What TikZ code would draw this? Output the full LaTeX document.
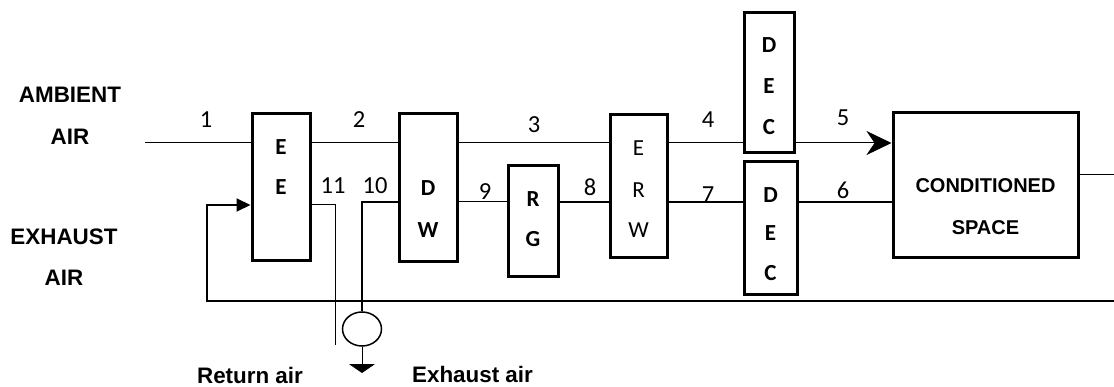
\documentclass[tikz,border=0pt]{standalone}
\usepackage{fontspec}
\setmainfont{Liberation Sans}
\newfontfamily\calfont{Carlito}
\usetikzlibrary{arrows.meta, shapes.geometric}

\begin{document}
\begin{tikzpicture}[x=1pt, y=-1pt,
    box/.style={draw, line width=3pt, inner sep=0pt},
    letter/.style={font=\calfont\bfseries\fontsize{23}{25}\selectfont, inner sep=0pt},
    thinletter/.style={font=\calfont\fontsize{23}{25}\selectfont, inner sep=0pt},
    num/.style={font=\calfont\fontsize{24.5}{26}\selectfont, inner sep=0pt},
    lbl/.style={font=\bfseries\fontsize{22.4}{24}\selectfont, inner sep=0pt},
    cstext/.style={font=\bfseries\fontsize{20}{22}\selectfont, inner sep=0pt},
    flow/.style={line width=1pt},
    heavy/.style={line width=1.7pt}]
    \useasboundingbox (0,0) rectangle (1114,387);

    % Side labels
    \node[lbl] (amb1) at (70,95) {AMBIENT};
    \node[lbl] (amb2) at (70,137) {AIR};
    \node[lbl] (exh1) at (64,237) {EXHAUST};
    \node[lbl] (exh2) at (64,278) {AIR};
    \node[lbl, anchor=base] (retair) at (250,384) {Return air};
    \node[lbl, anchor=base] (exhair) at (472.5,382) {Exhaust air};

    % Boxes
    \node[box, minimum width=58pt, minimum height=147pt] (ee) at (281,187.5) {};
    \node[box, minimum width=58pt, minimum height=148pt] (dw) at (428,188) {};
    \node[box, minimum width=50pt, minimum height=111pt] (rg) at (533,221.5) {};
    \node[box, minimum width=57pt, minimum height=143pt] (erw) at (638.5,186.5) {};
    \node[box, minimum width=50pt, minimum height=140pt] (dec1) at (769,83) {};
    \node[box, minimum width=53pt, minimum height=133pt] (dec2) at (770.5,228.5) {};
    \node[box, minimum width=185pt, minimum height=145pt] (cs) at (985.5,185.5) {};
    \node[draw, ellipse, line width=1.5pt, inner sep=0pt,
          minimum width=39pt, minimum height=34pt] (fan) at (362,329) {};

    % Box letters
    \foreach \t/\y [count=\i] in {E/147,E/187}
        \node[letter] (eeL\i) at (281,\y) {\t};
    \foreach \t/\y [count=\i] in {D/188,W/230}
        \node[letter] (dwL\i) at (428,\y) {\t};
    \foreach \t/\y [count=\i] in {R/199,G/239}
        \node[letter] (rgL\i) at (533,\y) {\t};
    \foreach \t/\y [count=\i] in {E/148,R/190,W/230}
        \node[thinletter] (erwL\i) at (638.5,\y) {\t};
    \foreach \t/\y [count=\i] in {D/45,E/86,C/127}
        \node[letter] (decA\i) at (769,\y) {\t};
    \foreach \t/\y [count=\i] in {D/195,E/233,C/273}
        \node[letter] (decB\i) at (770.5,\y) {\t};
    \node[cstext] (csL1) at (985.5,186) {CONDITIONED};
    \node[cstext] (csL2) at (985.5,228) {SPACE};

    % State numbers
    \foreach \n/\x/\y in {1/206/120, 2/359/120, 3/534/125, 4/708/120, 5/843/118,
                          6/843/190, 7/708/195, 8/590/187, 9/485/192, 10/375/186, 11/333/186}
        \node[num] (n\n) at (\x,\y) {\n};

    % Supply air path
    \coordinate (up) at (145,143);
    \coordinate (low) at (0,202);
    \draw[flow] (up) -- (ee.west |- up);
    \draw[flow] (ee.east |- up) -- (dw.west |- up);
    \draw[flow] (dw.east |- up) -- (erw.west |- up);
    \draw[flow] (erw.east |- up) -- (dec1.west |- up);
    \draw[flow, -{Stealth[length=25pt, width=24pt, inset=8pt]}] (dec1.east |- up) -- (cs.west |- up);

    % Regeneration path
    \draw[heavy] (cs.west |- low) -- (dec2.east |- low);
    \draw[heavy] (dec2.west |- low) -- (erw.east |- low);
    \draw[heavy] (erw.west |- low) -- (rg.east |- low);
    \draw[flow] (rg.west |- low) -- (dw.east |- low);
    \draw[heavy] (dw.west |- low) -| (fan.north);
    \coordinate (exhend) at (362,373);
    \draw[flow, -{Triangle[length=9pt, width=26pt]}] (fan.south) -- (exhend);

    % Return air loop
    \coordinate (rtop) at (1114,175);
    \coordinate (rbot) at (1114,301);
    \coordinate (lp) at (207,205);
    \coordinate (retend) at (335,345);
    \draw[flow] (cs.east |- rtop) -- (rtop);
    \draw[line width=2pt, -{Triangle[length=14pt, width=13pt]}] (rbot) -| (lp) -- (ee.west |- lp);
    \draw[flow] (ee.east |- lp) -| (retend);

\end{tikzpicture}
\end{document}
